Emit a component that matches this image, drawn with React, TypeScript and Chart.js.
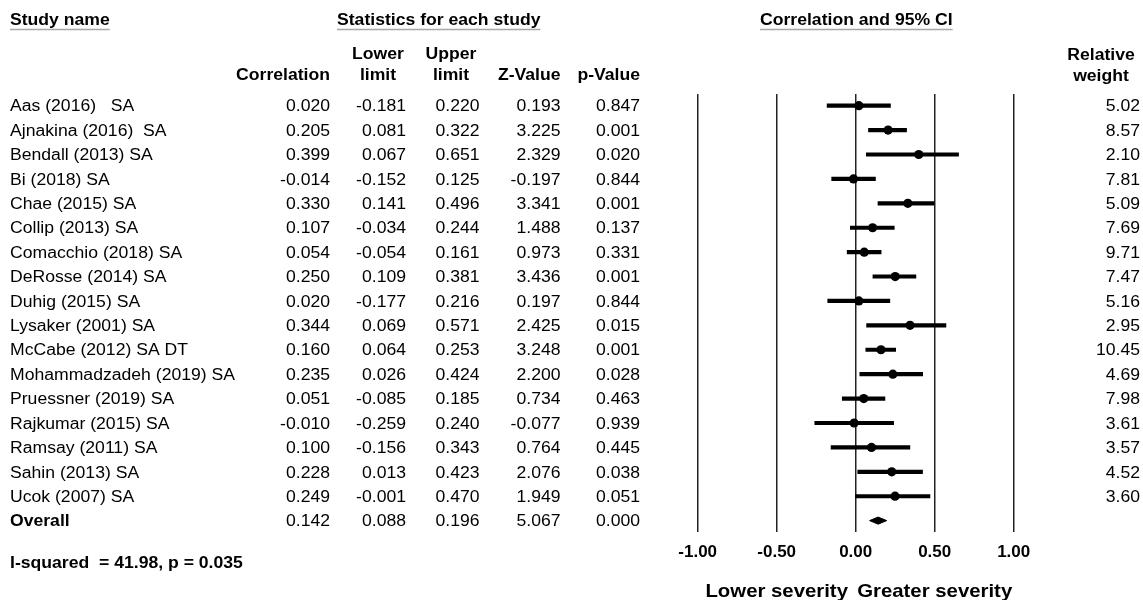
import React, { useEffect, useRef } from "react";
import { Chart, registerables } from "chart.js";

Chart.register(...registerables);

const studyNames = [
  "Aas (2016)   SA",
  "Ajnakina (2016)  SA",
  "Bendall (2013) SA",
  "Bi (2018) SA",
  "Chae (2015) SA",
  "Collip (2013) SA",
  "Comacchio (2018) SA",
  "DeRosse (2014) SA",
  "Duhig (2015) SA",
  "Lysaker (2001) SA",
  "McCabe (2012) SA DT",
  "Mohammadzadeh (2019) SA",
  "Pruessner (2019) SA",
  "Rajkumar (2015) SA",
  "Ramsay (2011) SA",
  "Sahin (2013) SA",
  "Ucok (2007) SA",
];
const correlation = [0.02, 0.205, 0.399, -0.014, 0.33, 0.107, 0.054, 0.25, 0.02, 0.344, 0.16, 0.235, 0.051, -0.01, 0.1, 0.228, 0.249];
const lowerLimit = [-0.181, 0.081, 0.067, -0.152, 0.141, -0.034, -0.054, 0.109, -0.177, 0.069, 0.064, 0.026, -0.085, -0.259, -0.156, 0.013, -0.001];
const upperLimit = [0.22, 0.322, 0.651, 0.125, 0.496, 0.244, 0.161, 0.381, 0.216, 0.571, 0.253, 0.424, 0.185, 0.24, 0.343, 0.423, 0.47];
const zValue = [0.193, 3.225, 2.329, -0.197, 3.341, 1.488, 0.973, 3.436, 0.197, 2.425, 3.248, 2.2, 0.734, -0.077, 0.764, 2.076, 1.949];
const pValue = [0.847, 0.001, 0.02, 0.844, 0.001, 0.137, 0.331, 0.001, 0.844, 0.015, 0.001, 0.028, 0.463, 0.939, 0.445, 0.038, 0.051];
const relativeWeight = [5.02, 8.57, 2.1, 7.81, 5.09, 7.69, 9.71, 7.47, 5.16, 2.95, 10.45, 4.69, 7.98, 3.61, 3.57, 4.52, 3.6];

const overallLabel = "Overall";
const overallStats = { correlation: 0.142, lower: 0.088, upper: 0.196, z: 5.067, p: 0.0 };
const heterogeneityText = "I-squared  = 41.98, p = 0.035";

const xTicks = [-1, -0.5, 0, 0.5, 1];
const leftLabel = "Lower severity";
const rightLabel = "Greater severity";

const FONT = '"Liberation Sans", Arial, sans-serif';
const SX = 1.1;

const tablePlugin = {
  id: "forestTable",
  afterDraw(chart: any) {
    const ctx = chart.ctx as CanvasRenderingContext2D;
    const ys = chart.scales.y;
    const xs = chart.scales.x;
    const txt = (s: string, px: number, py: number, align: CanvasTextAlign, bold: boolean, size = 16) => {
      ctx.save();
      ctx.font = `${bold ? "bold " : ""}${size}px ${FONT}`;
      ctx.fillStyle = "#000";
      ctx.textAlign = align;
      ctx.textBaseline = "alphabetic";
      ctx.translate(px, py);
      ctx.scale(SX, 1);
      ctx.fillText(s, 0, 0);
      const w = ctx.measureText(s).width * SX;
      ctx.restore();
      return w;
    };
    const underline = (x0: number, w: number, y: number) => {
      ctx.save();
      ctx.strokeStyle = "#a8a8a8";
      ctx.lineWidth = 1.5;
      ctx.beginPath();
      ctx.moveTo(x0, y);
      ctx.lineTo(x0 + w, y);
      ctx.stroke();
      ctx.restore();
    };
    // group headings
    let w = txt("Study name", 10, 25, "left", true);
    underline(10, w, 29.5);
    w = txt("Statistics for each study", 337, 25, "left", true);
    underline(337, w, 29.5);
    w = txt("Correlation and 95% CI", 760, 25, "left", true);
    underline(760, w, 29.5);

    // column headers
    const h1 = 58.5;
    const h2 = 79.5;
    txt("Correlation", 330, h2, "right", true);
    txt("Lower", 378, h1, "center", true);
    txt("limit", 378, h2, "center", true);
    txt("Upper", 451, h1, "center", true);
    txt("limit", 451, h2, "center", true);
    txt("Z-Value", 560.5, h2, "right", true);
    txt("p-Value", 640, h2, "right", true);
    txt("Relative", 1101, 60, "center", true);
    txt("weight", 1101, 80.5, "center", true);

    const cols = [330, 406, 479.5, 560.5, 640];
    studyNames.forEach((name, i) => {
      const by = ys.getPixelForValue(i) + 5.7;
      txt(name, 10, by, "left", false);
      txt(correlation[i].toFixed(3), cols[0], by, "right", false);
      txt(lowerLimit[i].toFixed(3), cols[1], by, "right", false);
      txt(upperLimit[i].toFixed(3), cols[2], by, "right", false);
      txt(zValue[i].toFixed(3), cols[3], by, "right", false);
      txt(pValue[i].toFixed(3), cols[4], by, "right", false);
      txt(relativeWeight[i].toFixed(2), 1140, by, "right", false);
    });
    const oy = ys.getPixelForValue(studyNames.length) + 5.7;
    txt(overallLabel, 10, oy, "left", true);
    txt(overallStats.correlation.toFixed(3), cols[0], oy, "right", false);
    txt(overallStats.lower.toFixed(3), cols[1], oy, "right", false);
    txt(overallStats.upper.toFixed(3), cols[2], oy, "right", false);
    txt(overallStats.z.toFixed(3), cols[3], oy, "right", false);
    txt(overallStats.p.toFixed(3), cols[4], oy, "right", false);

    txt(heterogeneityText, 10, 568, "left", true);

    txt(leftLabel, xs.getPixelForValue(-0.5), 597.3, "center", true, 18.5);
    txt(rightLabel, xs.getPixelForValue(0.5), 597.3, "center", true, 18.5);
  },
};

export default function App() {
  const ref = useRef<HTMLCanvasElement | null>(null);
  useEffect(() => {
    if (!ref.current) return;
    const n = studyNames.length;
    const ciData = studyNames.map((_, i) => ({ y: i, x: [lowerLimit[i], upperLimit[i]] }));
    const pointData = studyNames.map((_, i) => ({ x: correlation[i], y: i }));
    const dh = 0.145;
    const diamond = [
      { x: overallStats.lower, y: n },
      { x: overallStats.correlation, y: n - dh },
      { x: overallStats.upper, y: n },
      { x: overallStats.correlation, y: n + dh },
      { x: overallStats.lower, y: n },
    ];
    const chart = new Chart(ref.current, {
      type: "scatter",
      data: {
        datasets: [
          {
            type: "bar",
            indexAxis: "y",
            data: ciData as any,
            backgroundColor: "#000",
            borderWidth: 0,
            barThickness: 3.5,
            xAxisID: "x",
            yAxisID: "y",
          } as any,
          {
            type: "scatter",
            data: pointData,
            backgroundColor: "#000",
            borderColor: "#000",
            pointRadius: 4.6,
            pointBorderWidth: 0,
            xAxisID: "x",
            yAxisID: "y",
          } as any,
          {
            type: "scatter",
            data: diamond,
            showLine: true,
            fill: "shape",
            backgroundColor: "#000",
            borderColor: "#000",
            borderWidth: 1,
            pointRadius: 0,
            xAxisID: "x",
            yAxisID: "y",
          } as any,
        ],
      },
      options: {
        responsive: false,
        animation: false,
        layout: { padding: { left: 697.7, right: 129.3, top: 94, bottom: 26 } },
        plugins: { legend: { display: false }, tooltip: { enabled: false } },
        scales: {
          x: {
            type: "linear",
            min: -1,
            max: 1,
            offset: false,
            afterBuildTicks: (scale: any) => {
              scale.ticks = xTicks.map((v) => ({ value: v }));
            },
            ticks: {
              callback: (v: any) => Number(v).toFixed(2),
              font: { family: FONT, size: 17, weight: "bold" },
              color: "#000",
              padding: 11,
              maxRotation: 0,
              autoSkip: false,
            },
            grid: { color: "#222", lineWidth: 1.5, drawTicks: false, offset: false },
            border: { display: false },
          },
          y: {
            type: "linear",
            display: false,
            reverse: true,
            offset: false,
            grid: { offset: false },
            min: -0.479,
            max: 17.45,
          },
        },
      },
      plugins: [tablePlugin],
    } as any);
    return () => chart.destroy();
  }, []);
  return (
    <div style={{ position: "fixed", left: 0, top: 0, width: 1143, height: 600, background: "#fff" }}>
      <canvas ref={ref} width={1143} height={600} />
    </div>
  );
}
